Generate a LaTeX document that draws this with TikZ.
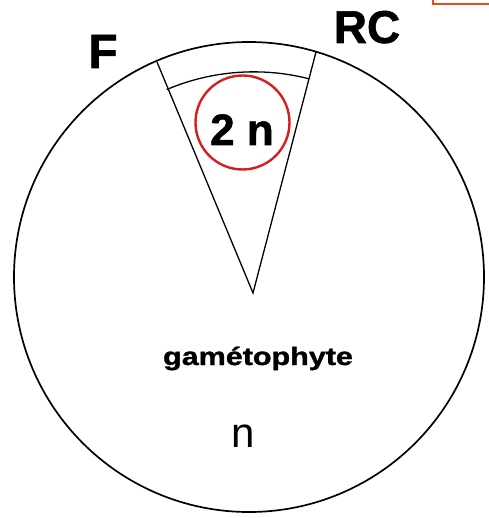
\documentclass[tikz,border=0pt]{standalone}
\usepackage{fontspec}
\setmainfont{Liberation Sans}
\newfontfamily\heavyfont[FakeBold=1.2]{Liberation Sans Bold}
\usepackage{tikz}
\usetikzlibrary{calc}
\definecolor{ploidred}{RGB}{215,30,30}
\definecolor{cropred}{RGB}{240,70,30}
\tikzset{
  cycle/outline/.style={draw, line width=1.7pt},
  cycle/sector/.style={draw, line width=1.3pt},
  cycle/tag/.style={font=\heavyfont\fontsize{48}{50}\selectfont, inner sep=0pt, anchor=base},
  cycle/ring/.style={draw=ploidred, circle, line width=2.4pt, minimum size=94pt, inner sep=0pt},
  cycle/name/.style={font=\heavyfont\fontsize{25}{27}\selectfont, inner sep=0pt, anchor=base, xscale=1.22}
}

\begin{document}
\begin{tikzpicture}[x=1pt, y=1pt]
  \useasboundingbox (0,0) rectangle (488,-518);

  % Life cycle circle
  \coordinate (centre) at (249,-277);
  \draw[cycle/outline] (centre) circle (235);

  % Diploid sector
  \coordinate (apex) at (253,-293);
  \coordinate (fleft) at (157,-62);
  \coordinate (rcright) at (316,-52);
  \draw[cycle/sector] (fleft) -- (apex) -- (rcright);
  \draw[cycle/sector] ($(apex)+(113:221)$) arc[start angle=113, end angle=75.6, radius=223];

  \node[cycle/ring] (ring) at (242.5,-122.5) {};
  \node[cycle/tag, font=\heavyfont\fontsize{44}{46}\selectfont] (diploid) at (242,-145) {2 n};

  % Labels
  \node[cycle/tag] (fert) at (103,-68) {F};
  \node[cycle/tag, font=\heavyfont\fontsize{46}{48}\selectfont] (meio) at (367,-43) {RC};
  \node[cycle/name] (gameto) at (258,-365) {gamétophyte};
  \node[inner sep=0pt, anchor=base, font=\fontsize{42}{44}\selectfont] (haploid) at (243,-447) {n};

  % Cut-off frame in the corner
  \draw[cropred, line width=2pt] (433,0) -- (433,-4) -- (490,-4);
\end{tikzpicture}
\end{document}
